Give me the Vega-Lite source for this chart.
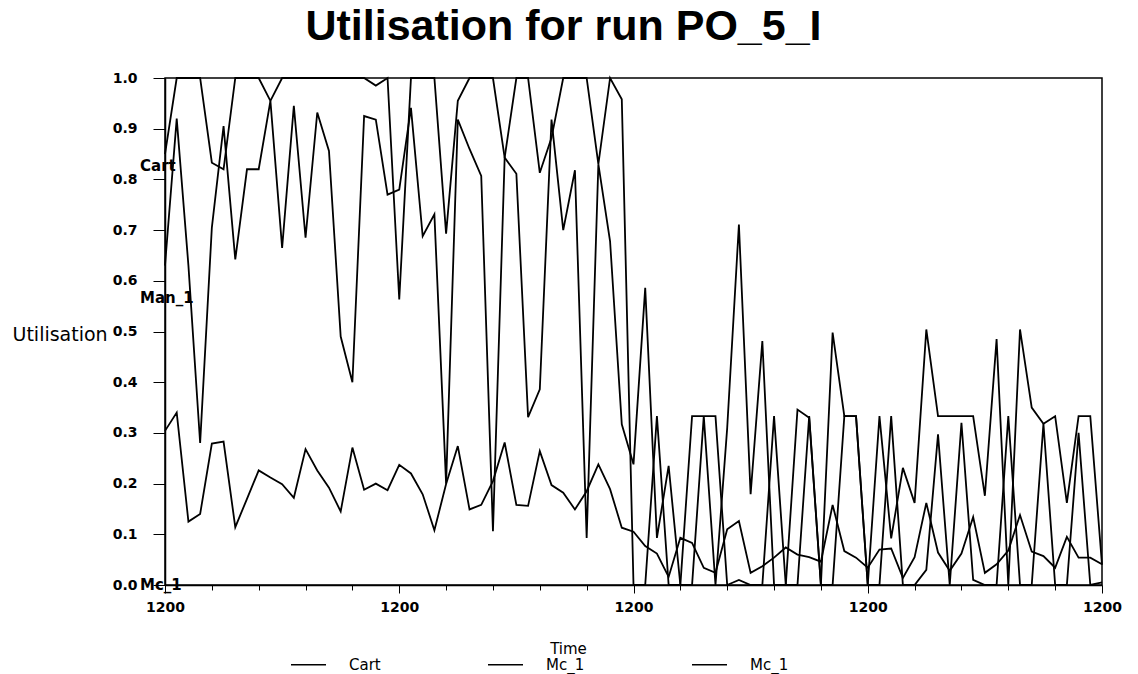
{
 "$schema": "https://vega.github.io/schema/vega-lite/v6.json",
 "width": 937, "height": 507,
 "autosize": {"type": "none"},
 "padding": {"left": 165, "top": 78, "right": 36, "bottom": 89},
 "background": "white",
 "title": {"text": "Utilisation for run PO_5_I", "font": "Liberation Sans", "fontSize": 43, "fontWeight": "bold", "color": "black", "anchor": "middle", "dx": -70, "dy": 40, "baseline": "alphabetic", "offset": 28},
 "config": {"view": {"stroke": "black", "strokeWidth": 1.5}, "axis": {"domainColor": "black", "tickColor": "black", "labelColor": "black", "titleColor": "black", "grid": false}},
 "datasets": {
  "series": [
   {"t":0,"Cart":0.85,"Mc_1":0.63,"Mc_1b":0.304},
   {"t":1,"Cart":1.0,"Mc_1":0.92,"Mc_1b":0.34},
   {"t":2,"Cart":1.0,"Mc_1":0.63,"Mc_1b":0.125},
   {"t":3,"Cart":1.0,"Mc_1":0.28,"Mc_1b":0.14},
   {"t":4,"Cart":0.833,"Mc_1":0.705,"Mc_1b":0.279},
   {"t":5,"Cart":0.82,"Mc_1":0.905,"Mc_1b":0.283},
   {"t":6,"Cart":1.0,"Mc_1":0.642,"Mc_1b":0.114},
   {"t":7,"Cart":1.0,"Mc_1":0.82,"Mc_1b":0.17},
   {"t":8,"Cart":1.0,"Mc_1":0.82,"Mc_1b":0.226},
   {"t":9,"Cart":0.955,"Mc_1":0.955,"Mc_1b":0.212},
   {"t":10,"Cart":1.0,"Mc_1":0.665,"Mc_1b":0.199},
   {"t":11,"Cart":1.0,"Mc_1":0.945,"Mc_1b":0.172},
   {"t":12,"Cart":1.0,"Mc_1":0.685,"Mc_1b":0.268},
   {"t":13,"Cart":1.0,"Mc_1":0.932,"Mc_1b":0.226},
   {"t":14,"Cart":1.0,"Mc_1":0.856,"Mc_1b":0.192},
   {"t":15,"Cart":1.0,"Mc_1":0.49,"Mc_1b":0.145},
   {"t":16,"Cart":1.0,"Mc_1":0.40,"Mc_1b":0.271},
   {"t":17,"Cart":1.0,"Mc_1":0.925,"Mc_1b":0.188},
   {"t":18,"Cart":0.985,"Mc_1":0.918,"Mc_1b":0.2},
   {"t":19,"Cart":1.0,"Mc_1":0.77,"Mc_1b":0.187},
   {"t":20,"Cart":0.563,"Mc_1":0.78,"Mc_1b":0.237},
   {"t":21,"Cart":1.0,"Mc_1":0.941,"Mc_1b":0.22},
   {"t":22,"Cart":1.0,"Mc_1":0.688,"Mc_1b":0.179},
   {"t":23,"Cart":1.0,"Mc_1":0.731,"Mc_1b":0.108},
   {"t":24,"Cart":0.693,"Mc_1":0.20,"Mc_1b":0.199},
   {"t":25,"Cart":0.955,"Mc_1":0.918,"Mc_1b":0.274},
   {"t":26,"Cart":1.0,"Mc_1":0.86,"Mc_1b":0.149},
   {"t":27,"Cart":1.0,"Mc_1":0.807,"Mc_1b":0.158},
   {"t":28,"Cart":1.0,"Mc_1":0.106,"Mc_1b":0.205},
   {"t":29,"Cart":0.843,"Mc_1":0.843,"Mc_1b":0.281},
   {"t":30,"Cart":0.811,"Mc_1":1.0,"Mc_1b":0.158},
   {"t":31,"Cart":0.331,"Mc_1":1.0,"Mc_1b":0.156},
   {"t":32,"Cart":0.386,"Mc_1":0.813,"Mc_1b":0.264},
   {"t":33,"Cart":0.918,"Mc_1":0.882,"Mc_1b":0.197},
   {"t":34,"Cart":0.70,"Mc_1":1.0,"Mc_1b":0.182},
   {"t":35,"Cart":0.818,"Mc_1":1.0,"Mc_1b":0.149},
   {"t":36,"Cart":0.093,"Mc_1":1.0,"Mc_1b":0.185},
   {"t":37,"Cart":0.83,"Mc_1":0.83,"Mc_1b":0.238},
   {"t":38,"Cart":0.678,"Mc_1":1.0,"Mc_1b":0.189},
   {"t":39,"Cart":0.317,"Mc_1":0.958,"Mc_1b":0.113},
   {"t":40,"Cart":0.238,"Mc_1":0.0,"Mc_1b":0.105},
   {"t":41,"Cart":0.586,"Mc_1":0.0,"Mc_1b":0.077},
   {"t":42,"Cart":0.093,"Mc_1":0.333,"Mc_1b":0.062},
   {"t":43,"Cart":0.235,"Mc_1":0.0,"Mc_1b":0.016},
   {"t":44,"Cart":0.0,"Mc_1":0.0,"Mc_1b":0.093},
   {"t":45,"Cart":0.0,"Mc_1":0.333,"Mc_1b":0.083},
   {"t":46,"Cart":0.333,"Mc_1":0.333,"Mc_1b":0.034},
   {"t":47,"Cart":0.0,"Mc_1":0.333,"Mc_1b":0.024},
   {"t":48,"Cart":0.31,"Mc_1":0.0,"Mc_1b":0.11},
   {"t":49,"Cart":0.711,"Mc_1":0.01,"Mc_1b":0.126},
   {"t":50,"Cart":0.179,"Mc_1":0.0,"Mc_1b":0.024},
   {"t":51,"Cart":0.481,"Mc_1":0.0,"Mc_1b":0.037},
   {"t":52,"Cart":0.0,"Mc_1":0.333,"Mc_1b":0.054},
   {"t":53,"Cart":0.0,"Mc_1":0.0,"Mc_1b":0.074},
   {"t":54,"Cart":0.346,"Mc_1":0.0,"Mc_1b":0.06},
   {"t":55,"Cart":0.33,"Mc_1":0.333,"Mc_1b":0.055},
   {"t":56,"Cart":0.0,"Mc_1":0.0,"Mc_1b":0.046},
   {"t":57,"Cart":0.498,"Mc_1":0.0,"Mc_1b":0.158},
   {"t":58,"Cart":0.333,"Mc_1":0.333,"Mc_1b":0.067},
   {"t":59,"Cart":0.333,"Mc_1":0.333,"Mc_1b":0.054},
   {"t":60,"Cart":0.0,"Mc_1":0.0,"Mc_1b":0.034},
   {"t":61,"Cart":0.333,"Mc_1":0.0,"Mc_1b":0.07},
   {"t":62,"Cart":0.092,"Mc_1":0.333,"Mc_1b":0.072},
   {"t":63,"Cart":0.231,"Mc_1":0.0,"Mc_1b":0.014},
   {"t":64,"Cart":0.162,"Mc_1":0.0,"Mc_1b":0.055},
   {"t":65,"Cart":0.504,"Mc_1":0.03,"Mc_1b":0.162},
   {"t":66,"Cart":0.333,"Mc_1":0.297,"Mc_1b":0.064},
   {"t":67,"Cart":0.333,"Mc_1":0.0,"Mc_1b":0.028},
   {"t":68,"Cart":0.333,"Mc_1":0.32,"Mc_1b":0.062},
   {"t":69,"Cart":0.333,"Mc_1":0.01,"Mc_1b":0.134},
   {"t":70,"Cart":0.176,"Mc_1":0.0,"Mc_1b":0.024},
   {"t":71,"Cart":0.485,"Mc_1":0.0,"Mc_1b":0.041},
   {"t":72,"Cart":0.0,"Mc_1":0.333,"Mc_1b":0.068},
   {"t":73,"Cart":0.504,"Mc_1":0.0,"Mc_1b":0.138},
   {"t":74,"Cart":0.35,"Mc_1":0.0,"Mc_1b":0.066},
   {"t":75,"Cart":0.318,"Mc_1":0.318,"Mc_1b":0.057},
   {"t":76,"Cart":0.333,"Mc_1":0.0,"Mc_1b":0.034},
   {"t":77,"Cart":0.162,"Mc_1":0.0,"Mc_1b":0.095},
   {"t":78,"Cart":0.333,"Mc_1":0.3,"Mc_1b":0.054},
   {"t":79,"Cart":0.333,"Mc_1":0.0,"Mc_1b":0.054},
   {"t":80,"Cart":0.04,"Mc_1":0.005,"Mc_1b":0.041}
  ],
  "labels": [
   {"label":"Cart","t":0,"v":0.826},
   {"label":"Man_1","t":0,"v":0.566},
   {"label":"Mc_1","t":0,"v":0.0}
  ]
 },
 "layer": [
  {
   "data": {"name": "series"},
   "transform": [{"fold": ["Cart", "Mc_1", "Mc_1b"], "as": ["key", "value"]}],
   "mark": {"type": "line", "strokeWidth": 1.8},
   "encoding": {
    "x": {"field": "t", "type": "quantitative", "scale": {"domain": [0, 80], "nice": false, "zero": false},
     "axis": {"values": [0,1,2,3,4,5,6,7,8,9,10,11,12,13,14,15,16,17,18,19,20,21,22,23,24,25,26,27,28,29,30,31,32,33,34,35,36,37,38,39,40,41,42,43,44,45,46,47,48,49,50,51,52,53,54,55,56,57,58,59,60,61,62,63,64,65,66,67,68,69,70,71,72,73,74,75,76,77,78,79,80],
      "tickSize": {"condition": {"test": "datum.value % 20 === 0", "value": 8}, "value": 5},
      "labelExpr": "datum.value % 20 === 0 ? '1200' : ''", "labelOverlap": false, "labelFlush": false,
      "labelFont": "DejaVu Sans", "labelFontWeight": "bold", "labelFontSize": 14, "labelPadding": 7,
      "domainWidth": 1.5, "tickWidth": 1,
      "title": "Time", "titleFont": "DejaVu Sans", "titleFontWeight": "normal", "titleFontSize": 15,
      "titleX": 403, "titleY": 63, "titleBaseline": "middle", "titleAlign": "center"}},
    "y": {"field": "value", "type": "quantitative", "scale": {"domain": [0, 1], "nice": false},
     "axis": {"values": [0,0.1,0.2,0.3,0.4,0.5,0.6,0.7,0.8,0.9,1.0], "format": ".1f", "tickSize": 12, "labelPadding": 16,
      "labelFont": "DejaVu Sans", "labelFontWeight": "bold", "labelFontSize": 14, "domainWidth": 1.5,
      "title": "Utilisation", "titleAngle": 0, "titleAlign": "left", "titleBaseline": "middle", "titleX": -153, "titleY": 256,
      "titleFont": "DejaVu Sans", "titleFontWeight": "normal", "titleFontSize": 19}},
    "color": {"field": "key", "type": "nominal", "scale": {"domain": ["Cart", "Mc_1", "Mc_1b"], "range": ["black", "black", "black"]},
     "legend": {"orient": "none", "legendX": 125, "legendY": 568, "direction": "horizontal", "title": null,
      "symbolType": "stroke", "symbolSize": 1225, "symbolStrokeWidth": 1.5, "symbolStrokeColor": "black",
      "labelFont": "DejaVu Sans", "labelFontSize": 15, "labelColor": "black", "labelOffset": 22, "columnPadding": 104, "padding": 0,
      "labelExpr": "datum.label === 'Mc_1b' ? 'Mc_1' : datum.label"}}
   }
  },
  {
   "data": {"name": "labels"},
   "mark": {"type": "text", "align": "left", "baseline": "middle", "dx": -25, "font": "DejaVu Sans", "fontWeight": "bold", "fontSize": 15, "color": "black"},
   "encoding": {
    "x": {"field": "t", "type": "quantitative"},
    "y": {"field": "v", "type": "quantitative"},
    "text": {"field": "label"}
   }
  }
 ]
}
